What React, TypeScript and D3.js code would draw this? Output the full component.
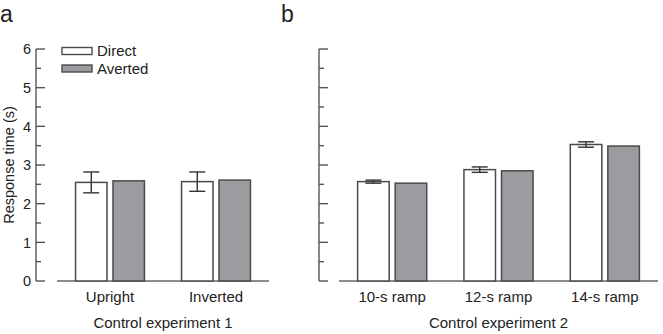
import * as d3 from "d3";

// Mean response times (s) and SEMs per condition
const exp1Categories = ["Upright", "Inverted"];
const exp1Direct = [2.55, 2.57];
const exp1DirectErr = [0.27, 0.25];
const exp1Averted = [2.59, 2.61];

const exp2Categories = ["10-s ramp", "12-s ramp", "14-s ramp"];
const exp2Direct = [2.57, 2.88, 3.53];
const exp2DirectErr = [0.04, 0.07, 0.07];
const exp2Averted = [2.53, 2.85, 3.49];

const conditions = ["Direct", "Averted"];
const yTicks = [0, 1, 2, 3, 4, 5, 6];
const yMinorTicks = [0.5, 1.5, 2.5, 3.5, 4.5, 5.5];

const W = 663;
const H = 334;
const Y_TOP = 49;
const Y_BOTTOM = 281;
const FONT = "'Liberation Sans', Arial, Helvetica, sans-serif";
const TEXT = "#222";
const BAR_STROKE = "#4a4a4a";
const GRAY = "#9c9ca0";

const y = d3.scaleLinear().domain([0, 6]).range([Y_BOTTOM, Y_TOP]);

interface PanelProps {
    letter: string;
    axisX: number;
    x0: number;
    x1: number;
    categories: string[];
    direct: number[];
    directErr: number[];
    averted: number[];
    title: string;
    showLabels: boolean;
}

function Panel({ letter, axisX, x0, x1, categories, direct, directErr, averted, title, showLabels }: PanelProps) {
    const x = d3.scaleBand<string>().domain(categories).range([x0, x1]).paddingInner(0.35).paddingOuter(0.175);
    const sub = d3.scaleBand<string>().domain(conditions).range([0, x.bandwidth()]).paddingInner(0.16);
    const bw = sub.bandwidth();

    return (
        <g>
            <text x={letter === "a" ? 0 : axisX - 38} y={22} fontSize={23} fill={TEXT} fontFamily={FONT}>
                {letter}
            </text>

            {/* y axis: ticks point inward, labels on the outside */}
            <line x1={axisX} x2={axisX} y1={y(6)} y2={y(0)} stroke="#555" strokeWidth={1.4} />
            {yTicks.map((t) => (
                <g key={t}>
                    <line x1={axisX} x2={axisX + 9} y1={y(t)} y2={y(t)} stroke="#555" strokeWidth={1.4} />
                    {showLabels && (
                        <text x={axisX - 5} y={y(t)} dy="0.36em" textAnchor="end" fontSize={14.5} fill={TEXT} fontFamily={FONT}>
                            {t}
                        </text>
                    )}
                </g>
            ))}
            {yMinorTicks.map((t) => (
                <line key={t} x1={axisX} x2={axisX + 5} y1={y(t)} y2={y(t)} stroke="#555" strokeWidth={1.4} />
            ))}

            {/* x baseline, detached from the y axis */}
            <line x1={x0} x2={x1} y1={y(0)} y2={y(0)} stroke="#666" strokeWidth={1.4} />

            {categories.map((c, i) => {
                const gx = x(c)!;
                const dx = gx + sub("Direct")!;
                const ax = gx + sub("Averted")!;
                const cx = dx + bw / 2;
                const lo = y(direct[i] - directErr[i]);
                const hi = y(direct[i] + directErr[i]);
                return (
                    <g key={c}>
                        <rect x={dx} y={y(direct[i])} width={bw} height={y(0) - y(direct[i])} fill="#fff" stroke={BAR_STROKE} strokeWidth={1.5} />
                        <rect x={ax} y={y(averted[i])} width={bw} height={y(0) - y(averted[i])} fill={GRAY} stroke={BAR_STROKE} strokeWidth={1.5} />
                        <line x1={cx} x2={cx} y1={lo} y2={hi} stroke="#333" strokeWidth={1.4} />
                        <line x1={cx - 8} x2={cx + 8} y1={hi} y2={hi} stroke="#333" strokeWidth={1.4} />
                        <line x1={cx - 8} x2={cx + 8} y1={lo} y2={lo} stroke="#333" strokeWidth={1.4} />
                        <text x={gx + x.bandwidth() / 2} y={302} textAnchor="middle" fontSize={15} fill={TEXT} fontFamily={FONT}>
                            {c}
                        </text>
                    </g>
                );
            })}

            <text x={(x0 + x1) / 2} y={328} textAnchor="middle" fontSize={15} fill={TEXT} fontFamily={FONT}>
                {title}
            </text>
        </g>
    );
}

export default function App() {
    return (
        <svg width={W} height={H} style={{ position: "absolute", left: 0, top: 0, background: "#fff" }}>
            <text
                transform={`translate(14,${(Y_TOP + Y_BOTTOM) / 2}) rotate(-90)`}
                textAnchor="middle"
                fontSize={14.5}
                fill={TEXT}
                fontFamily={FONT}
            >
                Response time (s)
            </text>

            <Panel
                letter="a"
                axisX={36}
                x0={57}
                x1={269}
                categories={exp1Categories}
                direct={exp1Direct}
                directErr={exp1DirectErr}
                averted={exp1Averted}
                title="Control experiment 1"
                showLabels
            />
            <Panel
                letter="b"
                axisX={319}
                x0={339}
                x1={658}
                categories={exp2Categories}
                direct={exp2Direct}
                directErr={exp2DirectErr}
                averted={exp2Averted}
                title="Control experiment 2"
                showLabels={false}
            />

            {/* legend */}
            {conditions.map((c, i) => (
                <g key={c} transform={`translate(62,${47.5 + i * 17.5})`}>
                    <rect width={30} height={7} fill={i === 0 ? "#fff" : GRAY} stroke={BAR_STROKE} strokeWidth={1.4} />
                    <text x={35} y={3.5} dy="0.36em" fontSize={15} fill={TEXT} fontFamily={FONT}>
                        {c}
                    </text>
                </g>
            ))}
        </svg>
    );
}
